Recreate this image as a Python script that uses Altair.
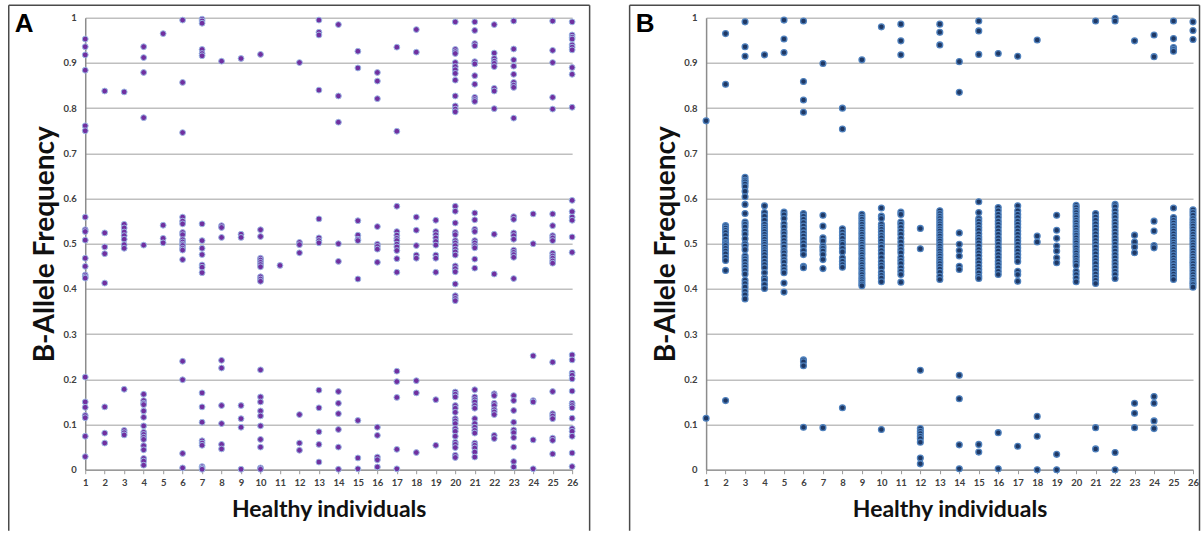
import altair as alt
import pandas as pd

INDIVIDUALS = list(range(1, 27))
Y_TICKS = [0, 0.1, 0.2, 0.3, 0.4, 0.5, 0.6, 0.7, 0.8, 0.9, 1.0]

# Panel A: B-allele frequencies per healthy individual (1..26)
BAF_A = [
    [0.953, 0.936, 0.918, 0.884, 0.761, 0.750, 0.559, 0.531, 0.527, 0.508, 0.468, 0.450, 0.431, 0.427, 0.424, 0.205, 0.150, 0.138, 0.120, 0.115, 0.074, 0.029],
    [0.838, 0.524, 0.493, 0.478, 0.413, 0.139, 0.081, 0.059],
    [0.836, 0.543, 0.535, 0.526, 0.518, 0.510, 0.498, 0.490, 0.178, 0.087, 0.082, 0.077],
    [0.936, 0.912, 0.879, 0.779, 0.497, 0.167, 0.153, 0.147, 0.144, 0.130, 0.116, 0.097, 0.083, 0.078, 0.072, 0.067, 0.053, 0.044, 0.025, 0.019, 0.010],
    [0.965, 0.541, 0.512, 0.502],
    [0.995, 0.857, 0.746, 0.559, 0.550, 0.544, 0.525, 0.520, 0.509, 0.504, 0.499, 0.496, 0.490, 0.486, 0.465, 0.240, 0.199, 0.036, 0.004],
    [0.997, 0.993, 0.988, 0.930, 0.921, 0.916, 0.544, 0.507, 0.490, 0.476, 0.453, 0.448, 0.436, 0.170, 0.139, 0.105, 0.064, 0.059, 0.054, 0.007, 0.004, 0.001],
    [0.904, 0.540, 0.536, 0.514, 0.242, 0.225, 0.142, 0.102, 0.056, 0.046],
    [0.910, 0.521, 0.514, 0.142, 0.113, 0.094, 0.001],
    [0.919, 0.531, 0.516, 0.468, 0.464, 0.459, 0.454, 0.449, 0.427, 0.422, 0.417, 0.221, 0.161, 0.150, 0.130, 0.119, 0.097, 0.067, 0.050, 0.004, 0.001],
    [0.452],
    [0.901, 0.503, 0.498, 0.480, 0.122, 0.059, 0.043],
    [0.995, 0.968, 0.962, 0.840, 0.555, 0.513, 0.507, 0.502, 0.176, 0.137, 0.084, 0.056, 0.017],
    [0.985, 0.827, 0.769, 0.500, 0.461, 0.173, 0.147, 0.124, 0.089, 0.050, 0.001],
    [0.926, 0.889, 0.551, 0.519, 0.510, 0.507, 0.422, 0.109, 0.026, 0.002],
    [0.879, 0.860, 0.821, 0.538, 0.499, 0.494, 0.488, 0.459, 0.094, 0.076, 0.028, 0.022, 0.006],
    [0.935, 0.749, 0.583, 0.527, 0.519, 0.512, 0.507, 0.499, 0.493, 0.485, 0.467, 0.437, 0.218, 0.195, 0.160, 0.045, 0.002],
    [0.974, 0.924, 0.559, 0.530, 0.496, 0.475, 0.468, 0.197, 0.170, 0.038],
    [0.552, 0.527, 0.520, 0.513, 0.505, 0.497, 0.475, 0.468, 0.437, 0.155, 0.054],
    [0.991, 0.930, 0.925, 0.921, 0.901, 0.892, 0.885, 0.877, 0.862, 0.827, 0.805, 0.798, 0.792, 0.583, 0.572, 0.546, 0.525, 0.520, 0.507, 0.502, 0.496, 0.488, 0.482, 0.475, 0.451, 0.445, 0.438, 0.411, 0.385, 0.379, 0.374, 0.172, 0.167, 0.161, 0.142, 0.136, 0.127, 0.113, 0.108, 0.102, 0.091, 0.085, 0.074, 0.061, 0.056, 0.049, 0.032, 0.027],
    [0.991, 0.972, 0.943, 0.938, 0.903, 0.898, 0.872, 0.853, 0.824, 0.819, 0.815, 0.568, 0.553, 0.532, 0.527, 0.507, 0.502, 0.496, 0.491, 0.466, 0.446, 0.177, 0.161, 0.155, 0.150, 0.142, 0.136, 0.113, 0.102, 0.094, 0.087, 0.081, 0.059, 0.054, 0.048, 0.039, 0.028],
    [0.985, 0.922, 0.910, 0.904, 0.899, 0.892, 0.844, 0.838, 0.799, 0.521, 0.433, 0.168, 0.164, 0.147, 0.142, 0.133, 0.128, 0.122, 0.076, 0.069],
    [0.993, 0.931, 0.907, 0.893, 0.875, 0.857, 0.851, 0.846, 0.778, 0.560, 0.554, 0.524, 0.518, 0.510, 0.486, 0.481, 0.476, 0.470, 0.423, 0.164, 0.153, 0.131, 0.105, 0.088, 0.082, 0.071, 0.050, 0.018, 0.006],
    [0.566, 0.500, 0.252, 0.153, 0.150, 0.066, 0.002],
    [0.993, 0.928, 0.901, 0.824, 0.798, 0.566, 0.540, 0.518, 0.513, 0.507, 0.479, 0.473, 0.468, 0.462, 0.457, 0.238, 0.173, 0.124, 0.119, 0.113, 0.070, 0.065, 0.035],
    [0.991, 0.962, 0.957, 0.953, 0.940, 0.935, 0.929, 0.890, 0.875, 0.802, 0.596, 0.571, 0.559, 0.552, 0.515, 0.481, 0.254, 0.243, 0.214, 0.209, 0.201, 0.174, 0.147, 0.142, 0.137, 0.114, 0.091, 0.085, 0.074, 0.037, 0.007],
]

# Panel B
BAF_B = [
    [0.772, 0.114],
    [0.965, 0.853, 0.540, 0.535, 0.530, 0.525, 0.518, 0.510, 0.503, 0.500, 0.496, 0.490, 0.484, 0.478, 0.470, 0.463, 0.441, 0.153],
    [0.991, 0.936, 0.915, 0.647, 0.641, 0.637, 0.632, 0.626, 0.616, 0.604, 0.587, 0.567, 0.548, 0.543, 0.537, 0.528, 0.521, 0.511, 0.500, 0.495, 0.487, 0.473, 0.467, 0.461, 0.454, 0.448, 0.441, 0.433, 0.419, 0.412, 0.404, 0.395, 0.387, 0.378],
    [0.918, 0.584, 0.569, 0.561, 0.552, 0.543, 0.537, 0.532, 0.527, 0.521, 0.515, 0.510, 0.504, 0.499, 0.493, 0.487, 0.482, 0.476, 0.469, 0.461, 0.454, 0.447, 0.436, 0.424, 0.419, 0.410, 0.401],
    [0.995, 0.953, 0.923, 0.570, 0.564, 0.556, 0.544, 0.537, 0.528, 0.522, 0.515, 0.507, 0.500, 0.493, 0.485, 0.480, 0.473, 0.465, 0.459, 0.450, 0.443, 0.436, 0.413, 0.393],
    [0.993, 0.859, 0.818, 0.791, 0.567, 0.561, 0.554, 0.547, 0.539, 0.532, 0.524, 0.517, 0.510, 0.502, 0.495, 0.485, 0.476, 0.450, 0.447, 0.243, 0.239, 0.230, 0.094],
    [0.899, 0.563, 0.539, 0.513, 0.506, 0.495, 0.490, 0.484, 0.476, 0.465, 0.445, 0.093],
    [0.800, 0.754, 0.533, 0.526, 0.519, 0.512, 0.504, 0.499, 0.490, 0.482, 0.469, 0.461, 0.454, 0.448, 0.137],
    [0.907, 0.565, 0.559, 0.554, 0.548, 0.543, 0.537, 0.532, 0.526, 0.521, 0.515, 0.510, 0.504, 0.499, 0.493, 0.487, 0.481, 0.476, 0.470, 0.465, 0.459, 0.454, 0.448, 0.443, 0.437, 0.432, 0.426, 0.421, 0.416, 0.411, 0.407],
    [0.980, 0.579, 0.561, 0.556, 0.543, 0.537, 0.532, 0.526, 0.519, 0.513, 0.506, 0.499, 0.493, 0.485, 0.478, 0.469, 0.460, 0.453, 0.447, 0.437, 0.430, 0.424, 0.416, 0.089],
    [0.986, 0.949, 0.918, 0.570, 0.565, 0.548, 0.543, 0.536, 0.528, 0.521, 0.512, 0.504, 0.495, 0.487, 0.480, 0.470, 0.463, 0.456, 0.447, 0.439, 0.432, 0.415],
    [0.534, 0.489, 0.220, 0.091, 0.085, 0.080, 0.074, 0.069, 0.061, 0.026, 0.013],
    [0.986, 0.968, 0.940, 0.573, 0.567, 0.561, 0.556, 0.550, 0.544, 0.539, 0.533, 0.528, 0.522, 0.517, 0.511, 0.506, 0.500, 0.495, 0.489, 0.484, 0.478, 0.473, 0.467, 0.461, 0.456, 0.450, 0.444, 0.437, 0.428, 0.421],
    [0.903, 0.835, 0.524, 0.499, 0.485, 0.473, 0.450, 0.443, 0.209, 0.157, 0.055, 0.002],
    [0.993, 0.971, 0.919, 0.593, 0.569, 0.556, 0.550, 0.543, 0.536, 0.530, 0.522, 0.515, 0.509, 0.502, 0.495, 0.487, 0.480, 0.473, 0.465, 0.458, 0.450, 0.443, 0.436, 0.428, 0.423, 0.056, 0.039],
    [0.921, 0.580, 0.573, 0.565, 0.558, 0.550, 0.543, 0.536, 0.528, 0.521, 0.513, 0.506, 0.499, 0.491, 0.484, 0.476, 0.469, 0.461, 0.454, 0.447, 0.439, 0.432, 0.082, 0.002],
    [0.915, 0.584, 0.573, 0.565, 0.558, 0.550, 0.543, 0.536, 0.528, 0.521, 0.513, 0.506, 0.499, 0.491, 0.484, 0.476, 0.469, 0.461, 0.439, 0.432, 0.417, 0.052],
    [0.951, 0.517, 0.504, 0.118, 0.074, 0.000],
    [0.563, 0.530, 0.512, 0.495, 0.484, 0.469, 0.458, 0.034, 0.000],
    [0.585, 0.580, 0.574, 0.569, 0.563, 0.558, 0.552, 0.547, 0.541, 0.536, 0.530, 0.524, 0.519, 0.513, 0.507, 0.502, 0.496, 0.491, 0.485, 0.480, 0.474, 0.469, 0.463, 0.458, 0.452, 0.439, 0.432, 0.424, 0.416],
    [0.993, 0.567, 0.559, 0.552, 0.544, 0.537, 0.530, 0.522, 0.515, 0.507, 0.500, 0.493, 0.485, 0.478, 0.470, 0.463, 0.456, 0.448, 0.441, 0.433, 0.426, 0.419, 0.412, 0.093, 0.046],
    [0.999, 0.993, 0.587, 0.582, 0.573, 0.565, 0.558, 0.550, 0.543, 0.536, 0.528, 0.521, 0.513, 0.506, 0.499, 0.491, 0.484, 0.476, 0.469, 0.461, 0.454, 0.447, 0.439, 0.432, 0.423, 0.038, 0.000],
    [0.949, 0.519, 0.504, 0.493, 0.480, 0.147, 0.125, 0.093],
    [0.962, 0.914, 0.550, 0.528, 0.496, 0.491, 0.162, 0.147, 0.108, 0.091],
    [0.993, 0.954, 0.934, 0.930, 0.926, 0.579, 0.558, 0.552, 0.546, 0.540, 0.534, 0.528, 0.522, 0.516, 0.510, 0.504, 0.499, 0.493, 0.487, 0.481, 0.475, 0.469, 0.463, 0.457, 0.451, 0.445, 0.439, 0.433, 0.427, 0.421],
    [0.991, 0.972, 0.952, 0.575, 0.569, 0.563, 0.556, 0.550, 0.544, 0.539, 0.533, 0.527, 0.521, 0.515, 0.509, 0.503, 0.497, 0.491, 0.485, 0.479, 0.473, 0.467, 0.461, 0.456, 0.450, 0.444, 0.438, 0.432, 0.426, 0.420, 0.414, 0.410, 0.404],
]

PLOT_W = 487
PLOT_H = 452
FONT = "Lato"


def to_frame(values):
    rows = []
    for ind, vals in zip(INDIVIDUALS, values):
        for v in vals:
            rows.append({"individual": ind, "baf": v})
    return pd.DataFrame(rows)


def panel(values, letter, fill, stroke, stroke_w, frame_right):
    df = to_frame(values)
    x_axis = alt.Axis(
        values=INDIVIDUALS, format="d", grid=False,
        domainColor="#9a9a9a", domainWidth=1.5,
        tickColor="#9a9a9a", tickSize=4, tickWidth=1,
        labelFont=FONT, labelFontWeight="bold", labelFontSize=9.5,
        labelColor="#404040", labelPadding=4, labelFlush=False, labelOverlap=False,
        title="Healthy individuals", titleFont=FONT, titleFontSize=23,
        titleFontWeight="bold", titleColor="#111111",
        titleX=PLOT_W / 2, titleY=47, titleAlign="center", titleBaseline="alphabetic",
    )
    y_axis = alt.Axis(
        values=Y_TICKS, format=".1~f", grid=True,
        gridColor="#bfbfbf", gridWidth=1.5,
        domainColor="#8c8c8c", domainWidth=1.5, ticks=False,
        labelFont=FONT, labelFontWeight="bold", labelFontSize=9.5,
        labelColor="#404040", labelPadding=9, labelFlush=False,
        title="B-Allele Frequency", titleFont=FONT, titleFontSize=28,
        titleFontWeight="bold", titleColor="#111111", titleAngle=270,
        titleX=-32, titleY=PLOT_H / 2, titleAlign="center", titleBaseline="alphabetic",
    )
    points = alt.Chart(df).mark_circle(
        size=34, opacity=1, fill=fill, stroke=stroke, strokeWidth=stroke_w
    ).encode(
        x=alt.X("individual:Q", scale=alt.Scale(domain=[1, 26], nice=False, zero=False), axis=x_axis),
        y=alt.Y("baf:Q", scale=alt.Scale(domain=[0, 1], nice=False, zero=False), axis=y_axis),
    )
    one = pd.DataFrame({"label": [letter]})
    frame_kw = dict(color="#4a4a4a", strokeWidth=1.5)
    left = alt.Chart(one).mark_rule(**frame_kw).encode(
        x=alt.value(-76.5), y=alt.value(-12.5), y2=alt.value(513))
    top = alt.Chart(one).mark_rule(**frame_kw).encode(
        x=alt.value(-76.5), x2=alt.value(frame_right), y=alt.value(-12.5))
    right = alt.Chart(one).mark_rule(**frame_kw).encode(
        x=alt.value(frame_right), y=alt.value(-12.5), y2=alt.value(513))
    label = alt.Chart(one).mark_text(
        font="Liberation Sans", fontWeight="bold", fontSize=26, color="#000000",
        align="center", baseline="alphabetic"
    ).encode(text="label:N", x=alt.value(-61), y=alt.value(14.7))
    return alt.layer(points, left, top, right, label).properties(width=PLOT_W, height=PLOT_H)


chart_a = panel(BAF_A, "A", "#7030A0", "#9DB9E4", 1.0, 504.5)
chart_b = panel(BAF_B, "B", "#1F3864", "#4F81BD", 1.3, 493.5)

chart = alt.hconcat(chart_a, chart_b, spacing=134, bounds="flush").properties(
    padding={"left": 7.25, "top": 3.75, "right": 0, "bottom": 0},
    background="white",
).configure_view(stroke=None)

chart.save("out.html", embed_options={"renderer": "svg", "actions": False})
